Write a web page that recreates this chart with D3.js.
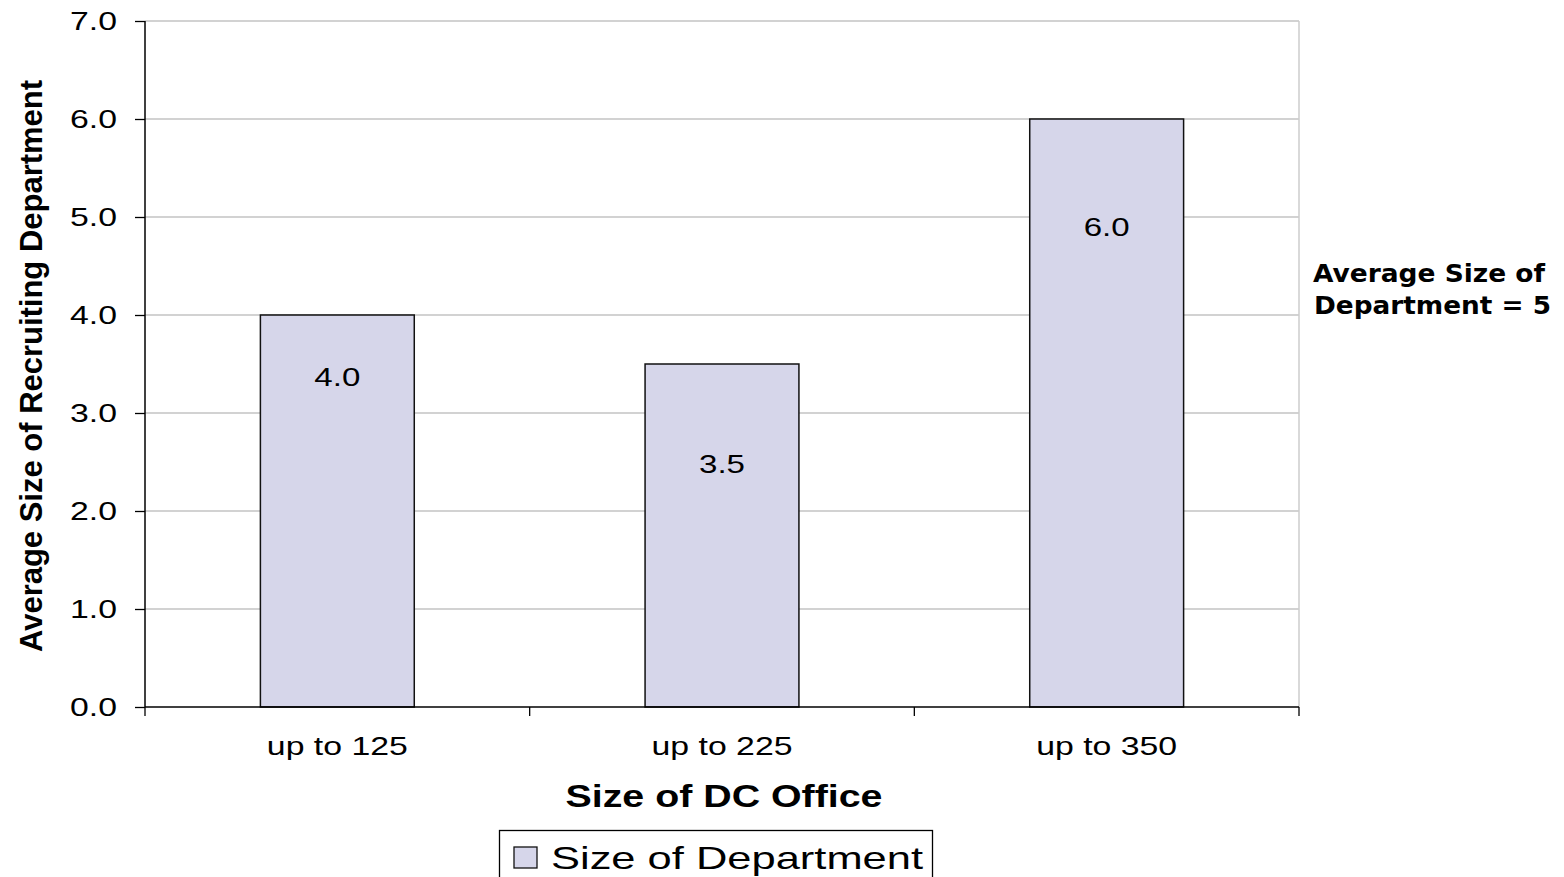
<!DOCTYPE html>
<html>
<head>
<meta charset="utf-8">
<script src="https://cdn.jsdelivr.net/npm/d3@7"></script>
<style>
  body { margin: 0; background: #fff; }
  svg { display: block; }
</style>
</head>
<body>
<svg id="chart" width="1564" height="877"></svg>
<script>
// data
var categories = ["up to 125", "up to 225", "up to 350"];
var values = [4.0, 3.5, 6.0];
// where each value label sits, in axis units
var labelAt = [3.37, 2.48, 4.9];
var yTicks = [0, 1, 2, 3, 4, 5, 6, 7];

var svg = d3.select("#chart");
var plotLeft = 145, plotRight = 1299, plotTop = 21, plotBottom = 707;
var sans = "Liberation Sans, Arial, sans-serif";
var verdana = "DejaVu Sans, Verdana, sans-serif";

var x = d3.scaleBand().domain(categories).range([plotLeft, plotRight])
    .paddingInner(0.6).paddingOuter(0.3);
var y = d3.scaleLinear().domain([0, 7]).range([plotBottom, plotTop]);

// gridlines
svg.append("g").selectAll("line")
    .data(yTicks.filter(function(d){ return d > 0; }))
  .enter().append("line")
    .attr("x1", plotLeft).attr("x2", plotRight)
    .attr("y1", function(d){ return y(d); }).attr("y2", function(d){ return y(d); })
    .attr("stroke", "#a6a6a6").attr("stroke-width", 1.2);

// right border of the plot
svg.append("line").attr("x1", plotRight).attr("x2", plotRight)
    .attr("y1", plotTop).attr("y2", plotBottom)
    .attr("stroke", "#cccccc").attr("stroke-width", 1.5);

// bars
svg.append("g").selectAll("rect")
    .data(values)
  .enter().append("rect")
    .attr("x", function(d,i){ return x(categories[i]); })
    .attr("y", function(d){ return y(d); })
    .attr("width", x.bandwidth())
    .attr("height", function(d){ return y(0) - y(d); })
    .attr("fill", "#d6d6ea").attr("stroke", "#111").attr("stroke-width", 1.5);

// value labels
svg.append("g").selectAll("text")
    .data(values)
  .enter().append("text")
    .attr("x", function(d,i){ return x(categories[i]) + x.bandwidth() / 2; })
    .attr("y", function(d,i){ return y(labelAt[i]) + 9; })
    .attr("text-anchor", "middle")
    .attr("font-family", sans).attr("font-size", 25)
    .attr("textLength", 46).attr("lengthAdjust", "spacingAndGlyphs")
    .text(function(d){ return d.toFixed(1); });

// y axis
var yAxis = d3.axisLeft(y).tickValues(yTicks).tickSize(10).tickPadding(18)
    .tickFormat(function(d){ return d.toFixed(1); });
var gy = svg.append("g").attr("transform", "translate(" + plotLeft + ",0)").call(yAxis);
gy.select(".domain").attr("d", "M0," + plotTop + "V" + plotBottom)
    .attr("stroke", "#000").attr("stroke-width", 1.5);
gy.selectAll(".tick line").attr("stroke", "#000").attr("stroke-width", 1.3);
gy.selectAll(".tick text").attr("font-family", sans)
    .attr("font-size", 25).attr("fill", "#000")
    .attr("textLength", 47).attr("lengthAdjust", "spacingAndGlyphs");

// x axis: ticks at the category boundaries
svg.append("line").attr("x1", plotLeft).attr("x2", plotRight)
    .attr("y1", plotBottom).attr("y2", plotBottom)
    .attr("stroke", "#000").attr("stroke-width", 1.5);
svg.append("g").selectAll("line")
    .data(d3.range(categories.length + 1))
  .enter().append("line")
    .attr("x1", function(i){ return plotLeft + i * x.step(); })
    .attr("x2", function(i){ return plotLeft + i * x.step(); })
    .attr("y1", plotBottom).attr("y2", plotBottom + 9)
    .attr("stroke", "#000").attr("stroke-width", 1.3);

svg.append("g").selectAll("text")
    .data(categories)
  .enter().append("text")
    .attr("x", function(d){ return x(d) + x.bandwidth() / 2; })
    .attr("y", 755)
    .attr("text-anchor", "middle")
    .attr("font-family", sans).attr("font-size", 25)
    .attr("textLength", 141).attr("lengthAdjust", "spacingAndGlyphs")
    .text(function(d){ return d; });

// axis titles
svg.append("text")
    .attr("x", 724).attr("y", 807)
    .attr("text-anchor", "middle")
    .attr("font-family", sans).attr("font-weight", "bold")
    .attr("font-size", 31)
    .attr("textLength", 317).attr("lengthAdjust", "spacingAndGlyphs")
    .text("Size of DC Office");

svg.append("text")
    .attr("transform", "translate(42,366) rotate(-90)")
    .attr("text-anchor", "middle")
    .attr("font-family", sans)
    .attr("font-weight", "bold").attr("font-size", 32)
    .attr("textLength", 572).attr("lengthAdjust", "spacingAndGlyphs")
    .text("Average Size of Recruiting Department");

// annotation on the right
var note = svg.append("text")
    .attr("font-family", verdana).attr("font-weight", "bold")
    .attr("font-size", 24);
note.append("tspan").attr("x", 1313).attr("y", 282)
    .attr("textLength", 232).attr("lengthAdjust", "spacingAndGlyphs")
    .text("Average Size of");
note.append("tspan").attr("x", 1314).attr("y", 314)
    .attr("textLength", 237).attr("lengthAdjust", "spacingAndGlyphs")
    .text("Department = 5");

// legend
var lg = svg.append("g");
lg.append("rect").attr("x", 499.5).attr("y", 830.5).attr("width", 433).attr("height", 60)
    .attr("fill", "#fff").attr("stroke", "#000").attr("stroke-width", 1.3);
lg.append("rect").attr("x", 514).attr("y", 847).attr("width", 23).attr("height", 21)
    .attr("fill", "#d6d6ea").attr("stroke", "#111").attr("stroke-width", 1.3);
lg.append("text").attr("x", 551).attr("y", 869)
    .attr("font-family", sans).attr("font-size", 32)
    .attr("textLength", 372).attr("lengthAdjust", "spacingAndGlyphs")
    .text("Size of Department");
</script>
</body>
</html>
